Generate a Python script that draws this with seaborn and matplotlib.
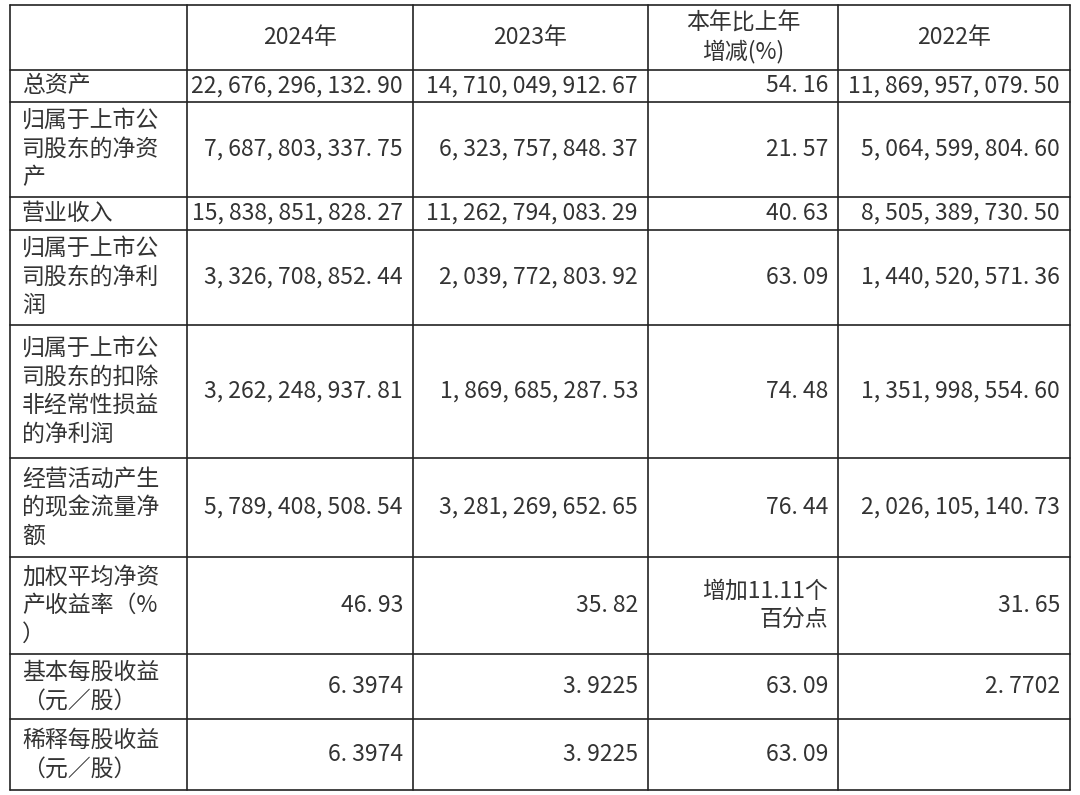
import matplotlib
matplotlib.use("Agg")
import matplotlib.pyplot as plt
import seaborn as sns

sns.set_theme(style="white")
plt.rcParams['font.family'] = ['Noto Sans CJK SC', 'DejaVu Sans']

headers = ["", "2024年", "2023年", "本年比上年\n增减(%)", "2022年"]
row_labels = ["总资产", "归属于上市公\n司股东的净资\n产", "营业收入", "归属于上市公\n司股东的净利\n润",
              "归属于上市公\n司股东的扣除\n非经常性损益\n的净利润", "经营活动产生\n的现金流量净\n额",
              "加权平均净资\n产收益率（%\n）", "基本每股收益\n（元／股）", "稀释每股收益\n（元／股）"]
col_2024 = ["22,676,296,132.90", "7,687,803,337.75", "15,838,851,828.27", "3,326,708,852.44",
            "3,262,248,937.81", "5,789,408,508.54", "46.93", "6.3974", "6.3974"]
col_2023 = ["14,710,049,912.67", "6,323,757,848.37", "11,262,794,083.29", "2,039,772,803.92",
            "1,869,685,287.53", "3,281,269,652.65", "35.82", "3.9225", "3.9225"]
col_chg = ["54.16", "21.57", "40.63", "63.09", "74.48", "76.44", "增加11.11个\n百分点", "63.09", "63.09"]
col_2022 = ["11,869,957,079.50", "5,064,599,804.60", "8,505,389,730.50", "1,440,520,571.36",
            "1,351,998,554.60", "2,026,105,140.73", "31.65", "2.7702", ""]

xs = [10, 187, 413, 648, 838, 1070]
ys = [5, 70, 102, 197, 230, 325, 458, 557, 654, 719, 790]

fig = plt.figure(figsize=(10.8, 7.95), dpi=100)
ax = fig.add_axes([0, 0, 1, 1])
ax.set_xlim(0, 1080); ax.set_ylim(795, 0); ax.axis("off")
lc = "#222222"
for x in xs:
    ax.plot([x, x], [ys[0], ys[-1]], color=lc, lw=1.2)
for y in ys:
    ax.plot([xs[0], xs[-1]], [y, y], color=lc, lw=1.2)

tc = "#333333"
fs = 16.5
def fmt(s):
    if "增" in s:
        return s
    return s.replace(",", ", ").replace(".", ". ")

for j, h in enumerate(headers):
    if h:
        ax.text((xs[j] + xs[j+1]) / 2, (ys[0] + ys[1]) / 2, h, ha="center", va="center",
                fontsize=fs, color=tc, linespacing=1.25)
cols = [col_2024, col_2023, col_chg, col_2022]
for i, lab in enumerate(row_labels):
    yc = (ys[i+1] + ys[i+2]) / 2
    ax.text(22, yc, lab, ha="left", va="center", fontsize=fs, color=tc, linespacing=1.3)
    for j, col in enumerate(cols):
        ax.text(xs[j+2] - 10, yc, fmt(col[i]), ha="right", va="center", fontsize=fs,
                color=tc, linespacing=1.3)

fig.savefig("out.png", dpi=100, facecolor="white")
